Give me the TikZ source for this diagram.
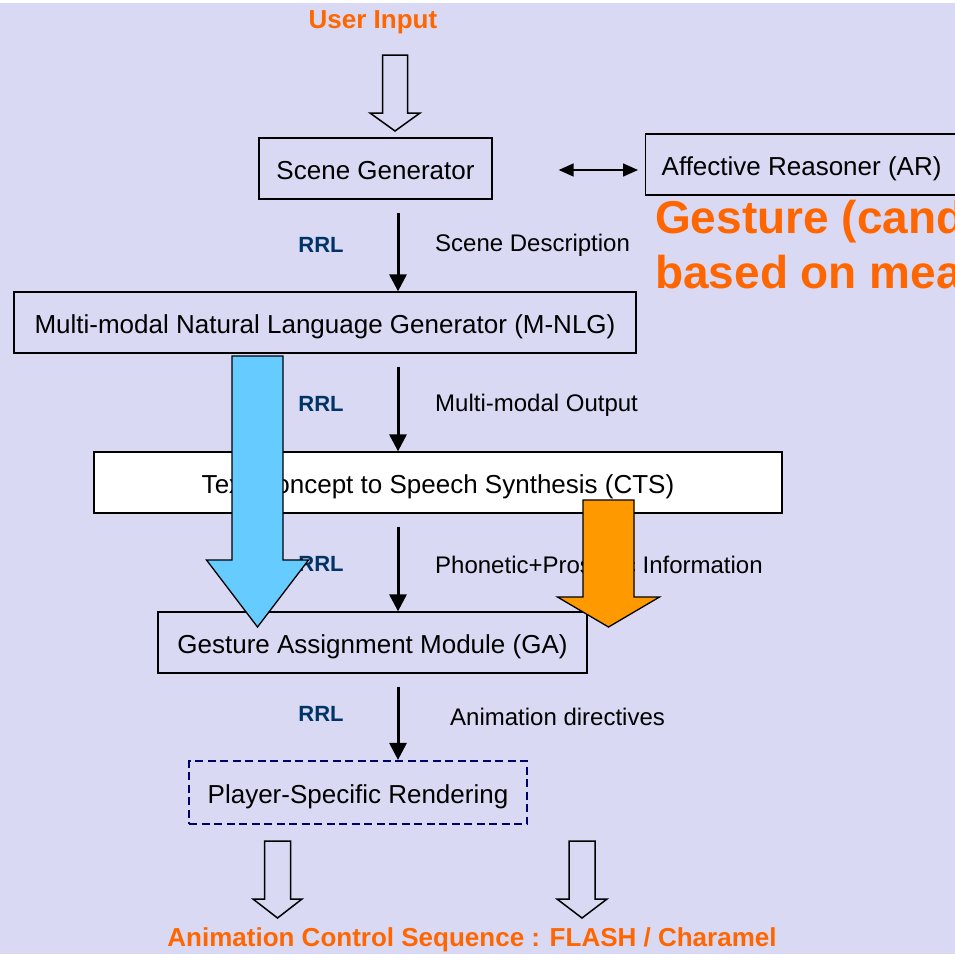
\documentclass[tikz,border=0pt]{standalone}
\usepackage{fontspec}
\setmainfont{Liberation Sans}
\usetikzlibrary{arrows.meta}
\definecolor{bg}{RGB}{217,217,243}
\definecolor{accent}{RGB}{255,102,0}
\definecolor{rrlblue}{RGB}{0,51,102}
\definecolor{navy}{RGB}{0,0,102}
\definecolor{skyfill}{RGB}{102,204,255}
\definecolor{amberfill}{RGB}{255,153,0}
% block arrow pointing down: [style]{centre x}{top}{head base}{tip}{shaft half width}{head half width}
\newcommand\blockarrow[7][]{%
  \draw[#1] (#2-#6,#3) -- (#2+#6,#3) -- (#2+#6,#4) -- (#2+#7,#4) -- (#2,#5)
    -- (#2-#7,#4) -- (#2-#6,#4) -- cycle;}
\begin{document}
\begin{tikzpicture}[x=1pt,y=-1pt,
  box/.style={draw=black, line width=1.3pt, inner sep=0pt,
    text height=24pt, text depth=2pt,
    font=\fontsize{26}{30}\selectfont},
  rrl/.style={text=rrlblue, font=\fontsize{22}{26}\selectfont\bfseries},
  flowlabel/.style={anchor=west, inner sep=0pt, yshift=-2pt,
    font=\fontsize{24}{28}\selectfont},
  flow/.style={line width=3pt, -{Triangle[width=17pt,length=17pt]}, shorten <=13pt},
  duplex/.style={line width=1.5pt, {Triangle[width=13pt,length=15pt]}-{Triangle[width=13pt,length=15pt]}},
  hollow/.style={draw=black, fill=bg, line width=1.5pt, line join=miter},
  bigarrow/.style={draw=black, line width=1.3pt, line join=miter},
  title/.style={text=accent, inner sep=0pt, font=\fontsize{26}{30}\selectfont\bfseries},
  headline/.style={text=accent, anchor=base west, inner sep=0pt,
    font=\fontsize{46}{54}\selectfont\bfseries},
]
\useasboundingbox (0,0) rectangle (955,954);
\fill[white] (0,0) rectangle (955,954);
\fill[bg] (0,3) rectangle (955,954);
\clip (0,0) rectangle (955,954);

% column of the main flow arrows
\coordinate (spine) at (398,0);

% modules
\node[box, minimum width=233pt, minimum height=61pt] (sg) at (375.5,168.5) {Scene Generator};
\node[box, anchor=west, inner xsep=16pt, minimum height=61pt] (ar) at (645,164.5) {Affective Reasoner (AR)};
\node[box, minimum width=622pt, minimum height=61pt] (nlg) at (325,322.5)
  {Multi-modal Natural Language Generator (M-NLG)};
\node[box, fill=white, minimum width=688pt, minimum height=61pt] (cts) at (438,482.5)
  {Text Concept to Speech Synthesis (CTS)};
\node[box, minimum width=429pt, minimum height=61pt] (ga) at (372.5,642.5)
  {Gesture Assignment Module (GA)};
\node[box, draw=navy, line width=2.2pt, dash pattern=on 8pt off 4.5pt,
  minimum width=338pt, minimum height=63pt] (psr) at (358,792.5)
  {Player-Specific Rendering};

% titles
\node[title] (input) at (373,22) {User Input};
\node[title] (output) at (472,940) {Animation Control Sequence : FLASH / Charamel};
\node[headline] (gest1) at (655,233) {Gesture (candidates)};
\node[headline] (gest2) at (655,288) {based on meaning};

% RRL tags and data labels
\node[rrl] (r1) at (321,245) {RRL};
\node[rrl] (r2) at (321,404) {RRL};
\node[rrl] (r3) at (321,564) {RRL};
\node[rrl] (r4) at (321,714) {RRL};
\node[flowlabel] (l1) at (435,243) {Scene Description};
\node[flowlabel] (l2) at (435,403) {Multi-modal Output};
\node[flowlabel] (l3) at (435,563) {Phonetic+Prosodic Information};
\node[flowlabel] (l4) at (450,715) {Animation directives};

% main flow
\draw[flow] (sg.south -| spine) -- (nlg.north -| spine);
\draw[flow] (nlg.south -| spine) -- (cts.north -| spine);
\draw[flow] (cts.south -| spine) -- (ga.north -| spine);
\draw[flow] (ga.south -| spine) -- (psr.north -| spine);
\draw[duplex, shorten <=66pt, shorten >=7pt] ([yshift=-1.5pt]sg.east) -- ([yshift=-1.5pt]sg.east -| ar.west);

% hollow block arrows for input and output
\blockarrow[hollow]{395}{55}{113}{131}{12.5}{25}
\blockarrow[hollow]{277.5}{841}{899}{918}{13}{24.5}
\blockarrow[hollow]{582}{841}{899}{918}{13}{25}

% gesture data paths feeding the assignment module
\blockarrow[bigarrow, fill=skyfill]{257.5}{356}{560}{627}{25.5}{51}
\blockarrow[bigarrow, fill=amberfill]{608.5}{500}{597}{627}{25.5}{51}
\end{tikzpicture}
\end{document}
